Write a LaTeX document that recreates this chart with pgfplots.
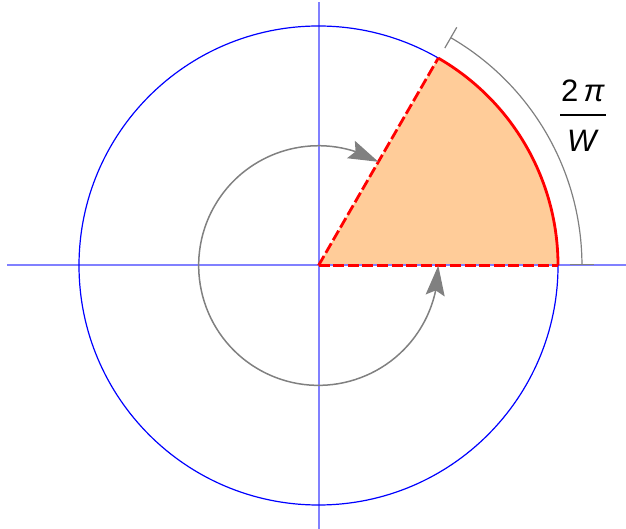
\documentclass[border=0pt]{standalone}
\usepackage{fontspec}
\setmainfont{Liberation Sans}
\usepackage{pgfplots}
\pgfplotsset{compat=1.18}
\usetikzlibrary{arrows.meta,bending}
\definecolor{sectorfill}{RGB}{255,204,153}
\definecolor{axblue}{RGB}{128,128,255}
\definecolor{arcgray}{RGB}{128,128,128}
\begin{document}
\begin{tikzpicture}
\begin{axis}[x=119.75pt,y=119.75pt,
  xmin=-1.3299,xmax=1.2839,ymin=-1.1002,ymax=1.1086,
  hide axis, clip=false, scale only axis]
\coordinate (ll) at (axis cs:-1.3299,-1.1002);
\coordinate (ur) at (axis cs:1.2839,1.1086);
% sector
\fill[sectorfill] (axis cs:0,0) -- (axis cs:1,0) arc[start angle=0,end angle=60,radius=119.75pt] -- cycle;
% axis lines
\addplot[axblue, line width=1pt, forget plot] coordinates {(-1.3006,0) (1.2839,0)};
\addplot[axblue, line width=1pt, forget plot] coordinates {(0,1.100) (0,-1.1002)};
% unit circle
\draw[blue, line width=0.6pt] (axis cs:0,0) circle[radius=119.75pt];
% dashed radii
\addplot[red, line width=1.4pt, dash pattern=on 5.5pt off 1.8pt, forget plot] coordinates {(0,0) (1,0)};
\addplot[red, line width=1.4pt, dash pattern=on 5.5pt off 1.8pt, forget plot] coordinates {(0,0) (0.5,0.8660)};
% red arc
\draw[red, line width=1.4pt] (axis cs:1,0) arc[start angle=0,end angle=60,radius=119.75pt];
% inner gray arc with arrows at both ends
\draw[arcgray, line width=0.75pt, {Stealth[length=15pt,width=9.5pt,inset=2.5pt,flex]}-{Stealth[length=15pt,width=9.5pt,inset=2.5pt,flex]}]
  (axis cs:0.25,0.4330) arc[start angle=60,end angle=360,radius=59.9pt];
% outer gray arc with bars
\draw[arcgray, line width=0.6pt, {Bar[width=12pt]}-{Bar[width=12pt]}]
  (axis cs:1.100,0) arc[start angle=0,end angle=60,radius=131.7pt];
% label
\node[inner sep=0pt, anchor=center] at (axis cs:1.104,0.612) {\fontsize{15.5}{18}\selectfont
  \setlength{\arrayrulewidth}{1.1pt}\setlength{\tabcolsep}{0.5pt}%
  \begin{tabular}{c}2\,\textit{π}\\[1pt]\hline\rule{0pt}{17.5pt}\textit{W}\end{tabular}};
\end{axis}
\pgfresetboundingbox
\path (ll) rectangle (ur);
\end{tikzpicture}
\end{document}
